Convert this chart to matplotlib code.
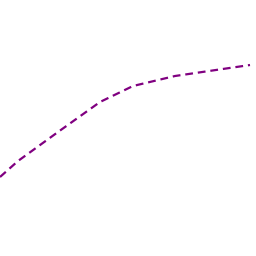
import matplotlib
matplotlib.use('Agg')
from matplotlib import pyplot as plt

# values (pixel-like units, y grows downward)
xs = [0, 18, 58, 100, 133, 175, 250]
ys = [177, 161, 132, 102, 86, 76, 65]

fig = plt.figure(figsize=(2.56, 2.56), dpi=100)
ax = fig.add_axes([0, 0, 1, 1])
ax.plot(xs, ys, color='#800080', linewidth=1.6, linestyle=(0, (3.5, 2.2)))
ax.set_xlim(0, 256)
ax.set_ylim(256, 0)
ax.axis('off')

fig.savefig('out.png', dpi=100)
